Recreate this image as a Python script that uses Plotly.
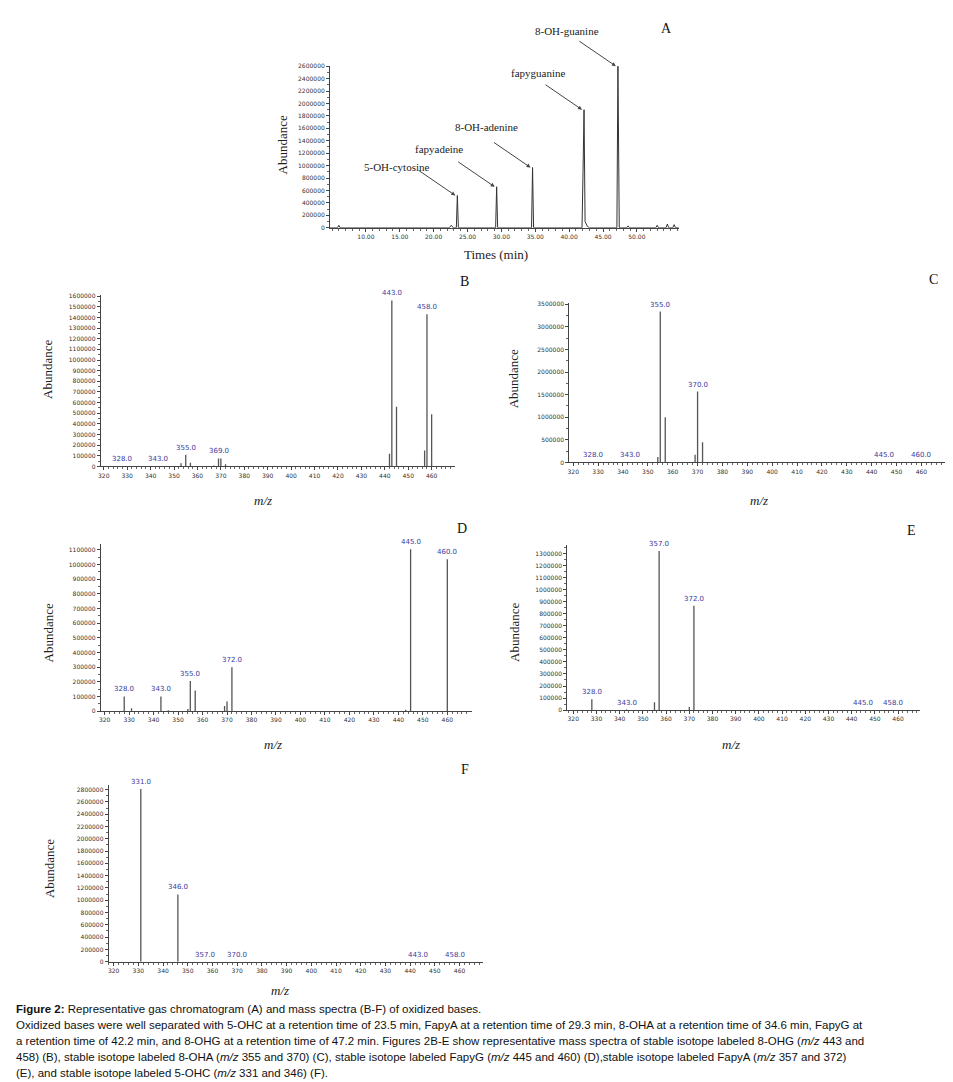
import plotly.graph_objects as go

W, H = 953, 1082

# ---- Panel A: chromatogram ----
chrom_time = [4.7, 5.8, 6.0, 6.2, 7.0, 22.3, 22.6, 22.9, 23.35, 23.5, 23.65, 27.0, 29.15, 29.3, 29.45,
              34.45, 34.6, 34.75, 41.9, 42.05, 42.2, 42.35, 42.5, 42.7, 43.0, 47.05, 47.2, 47.3, 47.4, 48.5,
              48.7, 48.9, 52.8, 53.0, 53.2, 54.3, 54.5, 54.7, 55.3, 55.5, 55.7, 56.2]
chrom_abund = [0, 0, 40000, 0, 0, 0, 40000, 0, 0, 520000, 0, 0, 0, 660000, 0,
               0, 970000, 0, 0, 900000, 1900000, 100000, 50000, 20000, 0, 0, 2600000, 500000, 0, 0,
               30000, 0, 0, 40000, 0, 0, 60000, 0, 0, 50000, 0, 0]
peak_names = ["5-OH-cytosine", "fapyadeine", "8-OH-adenine", "fapyguanine", "8-OH-guanine"]
peak_times = [23.5, 29.3, 34.6, 42.2, 47.2]
peak_heights = [520000, 660000, 970000, 1900000, 2600000]

# ---- Mass spectra: (mz, abundance) sticks, and labelled peaks ----
B_mz = [328, 343, 353, 355, 357, 367, 369, 370, 372, 442, 443, 445, 457, 458, 460]
B_ab = [2000, 2000, 30000, 110000, 35000, 10000, 75000, 75000, 20000, 120000, 1560000, 560000, 150000, 1430000, 490000]
B_lab = ["328.0", "343.0", "355.0", "369.0", "443.0", "458.0"]
B_labmz = [328, 343, 355, 369, 443, 458]
B_labab = [0, 0, 110000, 75000, 1560000, 1430000]

C_mz = [328, 343, 354, 355, 357, 369, 370, 372, 445, 460]
C_ab = [0, 0, 120000, 3340000, 1000000, 170000, 1570000, 450000, 0, 0]
C_lab = ["328.0", "343.0", "355.0", "370.0", "445.0", "460.0"]
C_labmz = [328, 343, 355, 370, 445, 460]
C_labab = [0, 0, 3340000, 1570000, 0, 0]

D_mz = [328, 331, 343, 346, 354, 355, 357, 369, 370, 372, 443, 445, 460]
D_ab = [100000, 20000, 100000, 5000, 15000, 205000, 140000, 35000, 65000, 300000, 10000, 1105000, 1036000]
D_lab = ["328.0", "343.0", "355.0", "372.0", "445.0", "460.0"]
D_labmz = [328, 343, 355, 372, 445, 460]
D_labab = [100000, 100000, 205000, 300000, 1105000, 1036000]

E_mz = [328, 343, 355, 357, 370, 372, 445, 458]
E_ab = [90000, 5000, 65000, 1320000, 25000, 865000, 0, 0]
E_lab = ["328.0", "343.0", "357.0", "372.0", "445.0", "458.0"]
E_labmz = [328, 343, 357, 372, 445, 458]
E_labab = [90000, 5000, 1320000, 865000, 0, 0]

F_mz = [331, 346, 357, 370, 443, 458]
F_ab = [2810000, 1095000, 0, 0, 0, 0]
F_lab = ["331.0", "346.0", "357.0", "370.0", "443.0", "458.0"]
F_labmz = [331, 346, 357, 370, 443, 458]
F_labab = [2810000, 1095000, 0, 0, 0, 0]

fig = go.Figure()
annotations = []

def px_x(p): return p / W
def px_y(p): return 1 - p / H

tickfont = dict(family="DejaVu Sans", size=6, color="#333")
serif = "Liberation Serif"

def setup_axes(i, xpx, ypx, xr, yr, ydt, xdt, xfmt=None, xminor=2):
    xa = dict(domain=[px_x(xpx[0]), px_x(xpx[1])], range=xr, showgrid=False, zeroline=False,
              showline=True, linecolor="#444", linewidth=1, ticks="outside", ticklen=3, tickcolor="#444",
              dtick=xdt, tick0=0, tickfont=tickfont, anchor="y%d" % i if i > 1 else "y",
              minor=dict(dtick=xminor, ticks="outside", ticklen=2, tickcolor="#666"))
    if xfmt:
        xa["tickformat"] = xfmt
    ya = dict(domain=[px_y(ypx[1]), px_y(ypx[0])], range=yr, showgrid=False, zeroline=False,
              showline=True, linecolor="#444", linewidth=1, ticks="outside", ticklen=3, tickcolor="#444",
              dtick=ydt, tick0=0, tickformat="d", tickfont=tickfont, anchor="x%d" % i if i > 1 else "x",
              minor=dict(dtick=ydt / 2, ticks="outside", ticklen=2, tickcolor="#666"))
    s = "" if i == 1 else str(i)
    fig.update_layout(**{"xaxis" + s: xa, "yaxis" + s: ya})

def paper_text(text, x, y, font, angle=0, xanchor="center"):
    annotations.append(dict(text=text, x=px_x(x), y=px_y(y), xref="paper", yref="paper", showarrow=False,
                            xanchor=xanchor, yanchor="middle", textangle=angle, font=font))

def titles(letter, lpos, ab_pos, xt, xt_pos, italic=True):
    paper_text(letter, lpos[0], lpos[1], dict(family=serif, size=14, color="#111"))
    paper_text("Abundance", ab_pos[0], ab_pos[1], dict(family=serif, size=13, color="#222"), angle=-90)
    paper_text("<i>%s</i>" % xt if italic else xt, xt_pos[0], xt_pos[1], dict(family=serif, size=13, color="#222"))

# Panel A
setup_axes(1, (320, 670), (55, 218), [4.7, 56.2], [0, 2608000], 200000, 5, xfmt=".2f", xminor=1)
fig.update_layout(xaxis=dict(tickmode="array", tickvals=[10, 15, 20, 25, 30, 35, 40, 45, 50]))
fig.add_trace(go.Scatter(x=chrom_time, y=chrom_abund, mode="lines", line=dict(color="#333", width=1),
                         xaxis="x", yaxis="y", showlegend=False, hoverinfo="skip"))
lab_px = [(387, 157), (429, 139), (477, 117), (529, 62), (558, 20)]
for n, t, h, (lx, ly) in zip(peak_names, peak_times, peak_heights, lab_px):
    paper_text(n, lx, ly, dict(family=serif, size=11, color="#222"))
    annotations.append(dict(text="", x=t - 0.3, y=h, xref="x", yref="y", showarrow=True,
                            ax=-38, ay=-26, arrowhead=2, arrowsize=0.8, arrowwidth=1, arrowcolor="#444"))
titles("A", (658, 18), (272, 135), "Times (min)", (487, 245), italic=False)

panels = [
    ("B", B_mz, B_ab, B_lab, B_labmz, B_labab, (90, 445), (286, 458), [318.7, 469.8], [0, 1607000], 100000,
     (455, 272), (36, 360), (253, 492)),
    ("C", C_mz, C_ab, C_lab, C_labmz, C_labab, (560, 938), (294, 454), [318.4, 469.9], [0, 3520000], 500000,
     (925, 270), (505, 370), (750, 492)),
    ("D", D_mz, D_ab, D_lab, D_labmz, D_labab, (90, 462), (536, 704), [318.4, 469.9], [0, 1140000], 100000,
     (452, 520), (38, 625), (263, 738)),
    ("E", E_mz, E_ab, E_lab, E_labmz, E_labab, (558, 912), (537, 703), [317.4, 469.5], [0, 1370000], 100000,
     (903, 522), (505, 625), (722, 738)),
    ("F", F_mz, F_ab, F_lab, F_labmz, F_labab, (98, 473), (778, 956), [318, 469.3], [0, 2880000], 200000,
     (455, 763), (38, 862), (270, 985)),
]
for i, (L, mz, ab, lab, lmz, lab_ab, xpx, ypx, xr, yr, ydt, lpos, abpos, xtpos) in enumerate(panels, start=2):
    setup_axes(i, xpx, ypx, xr, yr, ydt, 10)
    xs, ys = [], []
    for m, a in zip(mz, ab):
        xs += [m, m, None]
        ys += [0, a, None]
    fig.add_trace(go.Scatter(x=xs, y=ys, mode="lines", line=dict(color="#555", width=1.3),
                             xaxis="x%d" % i, yaxis="y%d" % i, showlegend=False, hoverinfo="skip"))
    for t, m, a in zip(lab, lmz, lab_ab):
        annotations.append(dict(text=t, x=m, y=a, xref="x%d" % i, yref="y%d" % i, showarrow=False,
                                yanchor="bottom", yshift=1,
                                font=dict(family="DejaVu Sans", size=7, color="#3a3aa0")))
    titles(L, lpos, abpos, "m/z", xtpos)

caption = [
    "<b>Figure 2:</b> Representative gas chromatogram (A) and mass spectra (B-F) of oxidized bases.",
    "Oxidized bases were well separated with 5-OHC at a retention time of 23.5 min, FapyA at a retention time of 29.3 min, 8-OHA at a retention time of 34.6 min, FapyG at",
    "a retention time of 42.2 min, and 8-OHG at a retention time of 47.2 min. Figures 2B-E show representative mass spectra of stable isotope labeled 8-OHG (<i>m/z</i> 443 and",
    "458) (B), stable isotope labeled 8-OHA (<i>m/z</i> 355 and 370) (C), stable isotope labeled FapyG (<i>m/z</i> 445 and 460) (D),stable isotope labeled FapyA (<i>m/z</i> 357 and 372)",
    "(E), and stable isotope labeled 5-OHC (<i>m/z</i> 331 and 346) (F).",
]
for k, line in enumerate(caption):
    paper_text(line, 3, 1004 + 16 * k, dict(family="Liberation Sans", size=11.5, color="#111"), xanchor="left")

fig.update_layout(width=W, height=H, margin=dict(l=0, r=0, t=0, b=0), paper_bgcolor="white",
                  plot_bgcolor="white", annotations=annotations)
fig.write_html("out.html")
